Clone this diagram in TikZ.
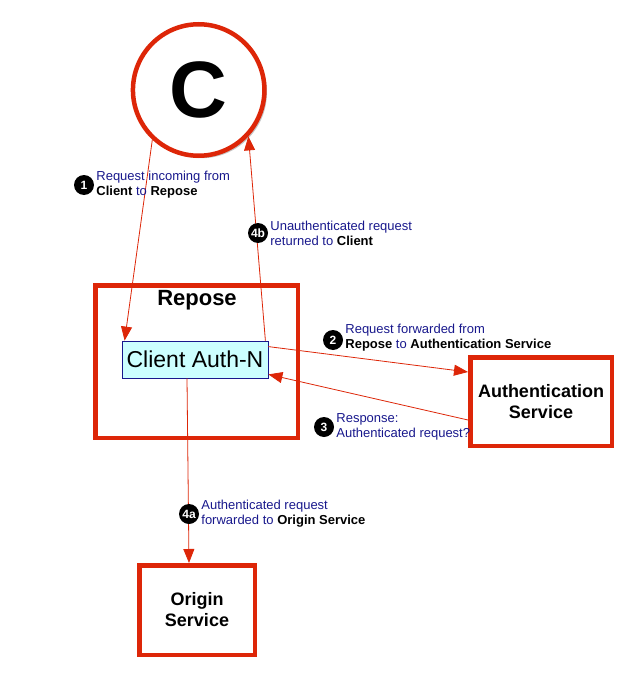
\documentclass[tikz,border=0pt]{standalone}
\usepackage{fontspec}
\setmainfont{Liberation Sans}
\usetikzlibrary{positioning,arrows.meta,shadows}

\definecolor{reposered}{RGB}{221,38,8}
\definecolor{notenavy}{RGB}{24,24,140}
\definecolor{authcyan}{RGB}{204,255,255}

\newcommand{\bk}[1]{{\color{black}\bfseries #1}}

\tikzset{
  svcbox/.style={draw=reposered, line width=4.5pt, fill=white, align=center,
    drop shadow={shadow xshift=2.5pt, shadow yshift=-2.5pt, fill=black!45, opacity=0.5},
    font=\bfseries\fontsize{18}{21}\selectfont},
  badge/.style={circle, fill=black, text=white, inner sep=0pt, minimum size=20pt,
    font=\bfseries\fontsize{12}{12}\selectfont},
  note/.style={text=notenavy, align=left, inner sep=0pt,
    font=\fontsize{13}{15}\selectfont},
  flow/.style={draw=reposered, line width=0.8pt, -{Triangle[length=14pt,width=11pt]}}
}

\begin{document}
\begin{tikzpicture}[x=1pt,y=-1pt]
  \useasboundingbox (0,0) rectangle (626,679);

  % client
  \node[svcbox, circle, minimum size=131.5pt, inner sep=0pt,
        font=\bfseries\fontsize{80}{80}\selectfont] (client) at (198.7,90) {C};

  % repose with the filter inside
  \node[svcbox, minimum width=202.5pt, minimum height=152.5pt] (repose) at (196.5,361.5) {};
  \node[font=\bfseries\fontsize{22}{22}\selectfont] (reposetitle) at (197,300) {Repose};
  \node[draw=notenavy, fill=authcyan, line width=0.8pt, minimum width=146pt, minimum height=37pt,
        inner sep=0pt, font=\fontsize{23}{23}\selectfont] (authn) at (195,359.5) {Client Auth-N};

  % services
  \node[svcbox, minimum width=141.5pt, minimum height=88.5pt] (authsvc) at (541,401.5)
       {Authentication\\Service};
  \node[svcbox, minimum width=115.5pt, minimum height=89.5pt] (origin) at (197,610)
       {Origin\\Service};

  % connectors
  \draw[flow] (client.227) -- ([xshift=3pt]authn.north west);
  \draw[flow] ([xshift=-3pt]authn.north east) -- (client.-43);
  \draw[flow] ([yshift=-6pt]authn.north east) -- ([yshift=-17pt]authsvc.north west);
  \draw[flow] ([yshift=28pt]authsvc.south west) -- ([yshift=4pt]authn.south east);
  \draw[flow] ([xshift=-8pt]authn.south) -- ([xshift=-8pt]origin.north);

  % step labels
  \node[badge] (b1) at (84,185) {1};
  \node[note, right=2pt of b1] (n1) {Request incoming from\\\bk{Client} to \bk{Repose}};
  \node[badge] (b4b) at (258,233) {4b};
  \node[note, right=2pt of b4b] (n4b) {Unauthenticated request\\returned to \bk{Client}};
  \node[badge] (b2) at (333,340) {2};
  \node[note, right=2pt of b2, yshift=2pt] (n2) {Request forwarded from\\\bk{Repose} to \bk{Authentication Service}};
  \node[badge] (b3) at (324,427) {3};
  \node[note, right=2pt of b3] (n3) {Response:\\Authenticated request?};
  \node[badge] (b4a) at (189,514) {4a};
  \node[note, right=2pt of b4a] (n4a) {Authenticated request\\forwarded to \bk{Origin Service}};
\end{tikzpicture}
\end{document}
